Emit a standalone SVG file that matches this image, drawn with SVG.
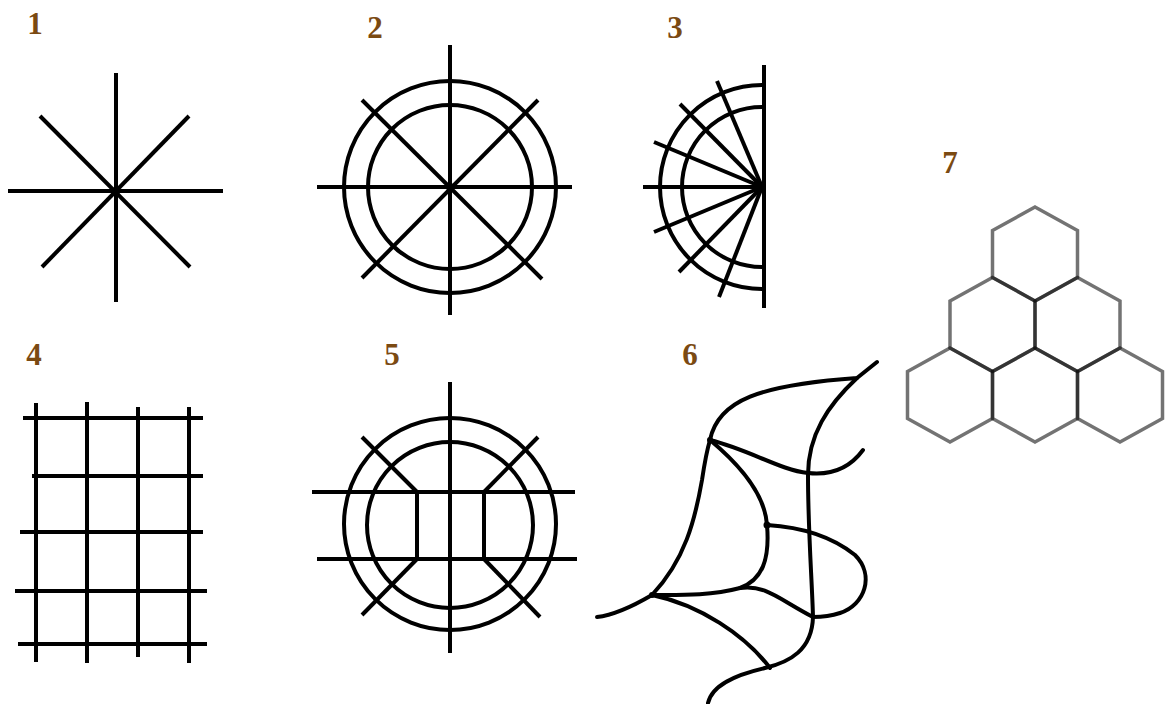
<svg xmlns="http://www.w3.org/2000/svg" width="1170" height="704" viewBox="0 0 1170 704">
<style>
.ln{stroke:#000;stroke-width:4;fill:none;stroke-linecap:butt}
.cv{stroke:#000;stroke-width:4;fill:none;stroke-linecap:round;stroke-linejoin:round}
.hex{stroke:#000;stroke-opacity:0.55;stroke-width:3.5;fill:none;stroke-linejoin:miter}
.lbl{font-family:"Liberation Serif",serif;font-weight:bold;font-size:31px;fill:#7b4a12;text-anchor:middle}
</style>
<rect width="1170" height="704" fill="#fff"/>

<g id="fig1">
<text class="lbl" x="35" y="34">1</text>
<line class="ln" x1="116" y1="73" x2="116" y2="302"/>
<line class="ln" x1="8" y1="191" x2="223" y2="191"/>
<line class="ln" x1="40" y1="116" x2="190" y2="267"/>
<line class="ln" x1="189" y1="116" x2="42" y2="267"/>
<circle cx="116" cy="191" r="4"/>
</g>

<g id="fig2">
<text class="lbl" x="375" y="38">2</text>
<circle class="ln" cx="450" cy="187" r="106"/>
<circle class="ln" cx="450" cy="187" r="82"/>
<line class="ln" x1="450" y1="45" x2="450" y2="315"/>
<line class="ln" x1="317" y1="187" x2="572" y2="187"/>
<line class="ln" x1="362" y1="100" x2="542" y2="279"/>
<line class="ln" x1="538" y1="100" x2="362" y2="278"/>
<circle cx="450" cy="187" r="4"/>
</g>

<g id="fig3">
<text class="lbl" x="675" y="38">3</text>
<line class="ln" x1="764" y1="65" x2="764" y2="308"/>
<path class="ln" d="M762,85 A102,102 0 0 0 762,289"/>
<path class="ln" d="M762,107 A80,80 0 0 0 762,267"/>
<line class="ln" x1="762" y1="187" x2="643" y2="187"/>
<line class="ln" x1="762" y1="187" x2="654" y2="142"/>
<line class="ln" x1="762" y1="187" x2="654" y2="232"/>
<line class="ln" x1="762" y1="187" x2="680" y2="104"/>
<line class="ln" x1="762" y1="187" x2="679" y2="272"/>
<line class="ln" x1="762" y1="187" x2="717" y2="81"/>
<line class="ln" x1="762" y1="187" x2="719" y2="297"/>
<circle cx="761" cy="187" r="5"/>
</g>

<g id="fig4">
<text class="lbl" x="34" y="365">4</text>
<line class="ln" x1="36" y1="403" x2="36" y2="662"/>
<line class="ln" x1="87" y1="402" x2="87" y2="663"/>
<line class="ln" x1="138" y1="407" x2="138" y2="657"/>
<line class="ln" x1="189" y1="407" x2="189" y2="663"/>
<line class="ln" x1="23" y1="418" x2="203" y2="418"/>
<line class="ln" x1="32" y1="476" x2="203" y2="476"/>
<line class="ln" x1="20" y1="532" x2="203" y2="532"/>
<line class="ln" x1="15" y1="591" x2="207" y2="591"/>
<line class="ln" x1="18" y1="644" x2="207" y2="644"/>
</g>

<g id="fig5">
<text class="lbl" x="392" y="365">5</text>
<circle class="ln" cx="450" cy="524" r="106"/>
<circle class="ln" cx="450" cy="525" r="83"/>
<line class="ln" x1="450" y1="382" x2="450" y2="653"/>
<line class="ln" x1="312" y1="492" x2="575" y2="492"/>
<line class="ln" x1="317" y1="559" x2="577" y2="559"/>
<line class="ln" x1="417" y1="492" x2="417" y2="559"/>
<line class="ln" x1="484" y1="492" x2="484" y2="559"/>
<line class="ln" x1="362" y1="437" x2="417" y2="492"/>
<line class="ln" x1="538" y1="437" x2="484" y2="492"/>
<line class="ln" x1="362" y1="615" x2="417" y2="559"/>
<line class="ln" x1="540" y1="617" x2="484" y2="559"/>
</g>

<g id="fig6">
<text class="lbl" x="690" y="365">6</text>
<path class="cv" d="M710,440 C718,400 760,385 857,378 L877,362"/>
<path class="cv" d="M857,378 C828,405 808,435 808,475 C808,530 812,580 813,617"/>
<path class="cv" d="M813,617 C812,650 790,662 765,668 C735,675 712,685 708,703"/>
<path class="cv" d="M710,440 C750,450 780,470 808,473 C835,476 852,465 863,450"/>
<path class="cv" d="M710,440 C740,465 765,495 767,525"/>
<path class="cv" d="M767,525 C800,527 830,535 855,555 C875,575 865,605 840,613 C828,617 818,617 813,617"/>
<path class="cv" d="M767,525 C770,560 762,580 740,588 C710,596 680,595 652,595"/>
<path class="cv" d="M740,588 C765,584 780,600 813,617"/>
<path class="cv" d="M652,595 C635,605 615,615 597,617"/>
<path class="cv" d="M652,595 C685,560 695,520 702,480 C705,460 707,450 710,440"/>
<path class="cv" d="M652,595 C700,605 745,635 770,668"/>
<circle cx="767" cy="525" r="3.5"/>
<circle cx="710" cy="440" r="3"/>
<circle cx="652" cy="595" r="3"/>
</g>

<g id="fig7">
<text class="lbl" x="950" y="173">7</text>
<defs>
<polygon id="hx" points="0,-47 42.5,-23.5 42.5,23.5 0,47 -42.5,23.5 -42.5,-23.5"/>
</defs>
<use href="#hx" class="hex" x="1035" y="254"/>
<use href="#hx" class="hex" x="992.5" y="324.5"/>
<use href="#hx" class="hex" x="1077.5" y="324.5"/>
<use href="#hx" class="hex" x="950" y="395"/>
<use href="#hx" class="hex" x="1035" y="395"/>
<use href="#hx" class="hex" x="1120" y="395"/>
</g>
</svg>
